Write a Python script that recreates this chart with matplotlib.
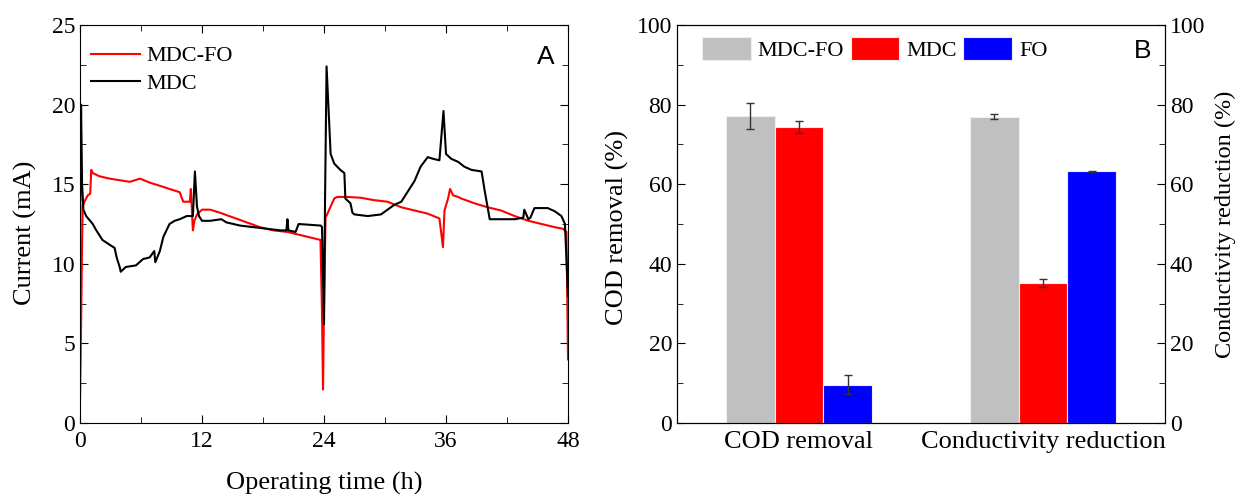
import numpy as np
import matplotlib.pyplot as plt
from matplotlib.ticker import MultipleLocator

plt.rcParams['font.family'] = ['Liberation Serif', 'DejaVu Serif']

# current over the 48 h run (h, mA)
mdc_fo_t = [0.0, 0.1, 0.2, 0.26, 0.43, 0.76, 1.0, 1.1, 1.25, 1.9, 2.9, 3.9, 4.9, 5.9, 6.85,
            7.85, 8.8, 9.8, 10.15, 10.8, 10.9, 11.1, 11.25, 11.5, 12.0, 12.8, 13.8, 15.1,
            16.4, 17.7, 19.0, 20.4, 21.7, 23.0, 23.65, 23.8, 23.9, 24.0, 24.15, 24.3,
            24.65, 25.0, 25.3, 26.3, 27.6, 28.9, 30.25, 31.6, 32.9, 34.2, 35.35, 35.7,
            35.85, 36.2, 36.4, 36.7, 37.2, 37.5, 38.8, 40.1, 41.4, 42.75, 44.1, 45.4, 46.7,
            47.5, 47.85, 48.0]
mdc_fo_i = [1.5, 6.0, 11.3, 13.6, 13.9, 14.3, 14.4, 15.9, 15.7, 15.5, 15.35, 15.25, 15.15,
            15.35, 15.1, 14.9, 14.7, 14.5, 13.9, 13.9, 14.7, 12.1, 12.7, 13.1, 13.4, 13.4,
            13.2, 12.9, 12.6, 12.3, 12.1, 12.0, 11.8, 11.6, 11.5, 7.0, 2.1, 7.5, 12.9, 13.1,
            13.6, 14.1, 14.2, 14.2, 14.15, 14.0, 13.9, 13.55, 13.35, 13.15, 12.85, 11.05,
            13.35, 14.1, 14.7, 14.3, 14.2, 14.1, 13.8, 13.55, 13.35, 13.0, 12.7, 12.5, 12.3,
            12.2, 12.0, 4.0]

mdc_t = [0.0, 0.1, 0.2, 0.33, 0.6, 1.25, 1.6, 2.2, 2.9, 3.4, 3.6, 3.9, 4.0, 4.5, 5.5, 6.2,
         6.85, 7.3, 7.4, 7.85, 8.2, 8.8, 9.3, 9.8, 10.5, 11.1, 11.3, 11.5, 11.7, 12.0, 12.8,
         13.9, 14.4, 15.75, 17.1, 18.4, 19.7, 20.3, 20.4, 20.5, 21.2, 21.5, 23.7, 23.8,
         24.0, 24.1, 24.25, 24.65, 25.0, 25.6, 26.0, 26.1, 26.6, 26.8, 27.0, 28.3, 29.6,
         30.25, 30.9, 31.6, 32.2, 32.9, 33.5, 34.2, 34.7, 35.35, 35.75, 36.0, 36.5, 37.2,
         37.8, 38.5, 39.5, 39.8, 40.3, 41.4, 42.75, 43.6, 43.7, 44.1, 44.3, 44.7, 46.0,
         46.7, 47.35, 47.7, 48.0]
mdc_i = [12.1, 20.0, 15.0, 13.4, 13.0, 12.5, 12.1, 11.5, 11.2, 11.0, 10.4, 9.8, 9.5, 9.8,
         9.9, 10.3, 10.4, 10.8, 10.1, 10.8, 11.7, 12.5, 12.7, 12.8, 13.0, 13.0, 15.8, 13.6,
         13.0, 12.7, 12.7, 12.8, 12.6, 12.4, 12.3, 12.2, 12.1, 12.1, 12.8, 12.1, 12.0, 12.5,
         12.4, 12.3, 6.2, 14.0, 22.4, 16.9, 16.3, 15.9, 15.7, 14.1, 13.8, 13.2, 13.1, 13.0,
         13.1, 13.4, 13.7, 13.9, 14.5, 15.2, 16.1, 16.7, 16.6, 16.5, 19.6, 16.9, 16.6, 16.4,
         16.1, 15.9, 15.8, 14.6, 12.8, 12.8, 12.8, 12.9, 13.4, 12.8, 12.9, 13.5, 13.5, 13.3,
         13.0, 12.5, 8.0]

# treatment performance (%)
groups = ['COD removal', 'Conductivity reduction']
series = ['MDC-FO', 'MDC', 'FO']
colors = ['#C0C0C0', '#FF0000', '#0000FF']
means = [[77.1, 77.0], [74.3, 35.1], [9.6, 63.2]]
errs = [[3.2, 0.6], [1.5, 1.0], [2.4, 0.2]]

TICK = 17
LABEL = 19
LEG = 16

fig = plt.figure(figsize=(12.41, 5.0), dpi=100)

# ---- A: current
ax1 = fig.add_axes([0.0645, 0.154, 0.3932, 0.796])
ax1.plot(mdc_fo_t, mdc_fo_i, color='#FF0000', lw=1.5, label='MDC-FO')
ax1.plot(mdc_t, mdc_i, color='black', lw=1.5, label='MDC')
ax1.set_xlim(0, 48)
ax1.set_ylim(0, 25)
ax1.xaxis.set_major_locator(MultipleLocator(12))
ax1.xaxis.set_minor_locator(MultipleLocator(6))
ax1.yaxis.set_major_locator(MultipleLocator(5))
ax1.yaxis.set_minor_locator(MultipleLocator(2.5))
ax1.tick_params(which='both', direction='in', top=True, right=True, labelsize=TICK)
ax1.tick_params(which='major', length=6)
ax1.tick_params(which='minor', length=4)
ax1.tick_params(axis='x', pad=6)
ax1.set_xlabel('Operating time (h)', fontsize=LABEL, labelpad=14)
ax1.set_ylabel('Current (mA)', fontsize=LABEL)
ax1.yaxis.set_label_coords(-0.088, 0.477)
ax1.legend(loc='upper left', frameon=False, fontsize=LEG, handlelength=2.2,
           handletextpad=0.3, labelspacing=0.3, borderaxespad=0.0,
           bbox_to_anchor=(0.004, 0.97))
ax1.text(45.8, 23.0, 'A', ha='center', va='center', fontsize=19, family='Liberation Sans')

# ---- B: removal bars
ax2 = fig.add_axes([0.5455, 0.154, 0.3932, 0.796])
x = np.arange(len(groups))
w = 0.2
for k, name in enumerate(series):
    ax2.bar(x + (k - 1) * w, means[k], w, color=colors[k], edgecolor='#EEEEEE',
            linewidth=0.8, label=name,
            yerr=errs[k], capsize=3, error_kw=dict(ecolor='#333333', elinewidth=1, capthick=1))
ax2.set_xlim(-0.5, 1.5)
ax2.set_ylim(0, 100)
ax2.set_xticks(x)
ax2.set_xticklabels(groups, fontsize=LABEL)
ax2.yaxis.set_major_locator(MultipleLocator(20))
ax2.yaxis.set_minor_locator(MultipleLocator(10))
ax2.tick_params(axis='x', length=0, pad=6)
ax2.tick_params(axis='y', which='both', direction='in', labelsize=TICK)
ax2.tick_params(axis='y', which='major', length=6)
ax2.tick_params(axis='y', which='minor', length=4)
ax2.set_ylabel('COD removal (%)', fontsize=LABEL)
ax2.yaxis.set_label_coords(-0.098, 0.49)
ax2.legend(loc='upper left', ncol=3, frameon=False, fontsize=LEG, handlelength=2.2,
           handleheight=1.2, handletextpad=0.3, columnspacing=0.3, borderaxespad=0.0,
           bbox_to_anchor=(0.033, 0.992))
ax2.text(0.954, 0.935, 'B', transform=ax2.transAxes, ha='center', va='center',
         fontsize=19, family='Liberation Sans')

ax3 = ax2.twinx()
ax3.set_ylim(0, 100)
ax3.yaxis.set_major_locator(MultipleLocator(20))
ax3.yaxis.set_minor_locator(MultipleLocator(10))
ax3.tick_params(axis='y', which='both', direction='in', labelsize=TICK)
ax3.tick_params(axis='y', which='major', length=6)
ax3.tick_params(axis='y', which='minor', length=4)
ax3.set_ylabel('Conductivity reduction (%)', fontsize=17.5)
ax3.yaxis.set_label_coords(1.102, 0.5)

fig.savefig('out.png', dpi=100)
